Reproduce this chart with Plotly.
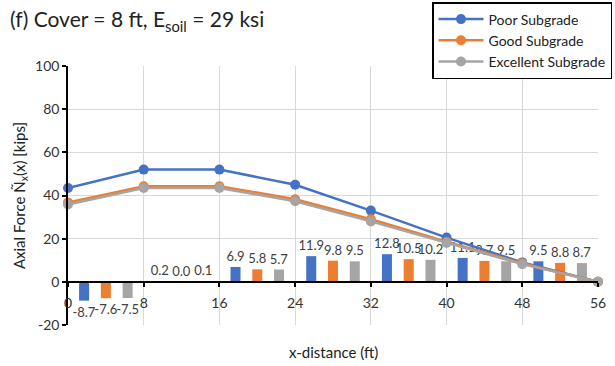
import plotly.graph_objects as go

# ---- data ----
x_dist = [0, 8, 16, 24, 32, 40, 48, 56]
poor = [43.5, 52.0, 52.0, 45.0, 33.0, 20.5, 9.0, 0.0]
good = [36.8, 44.3, 44.3, 38.3, 29.0, 18.6, 8.6, 0.0]
excellent = [35.8, 43.5, 43.5, 37.3, 28.0, 18.0, 8.2, 0.0]

bar_x = [4, 12, 20, 28, 36, 44, 52]
poor_bar = [-8.7, 0.2, 6.9, 11.9, 12.8, 11.1, 9.5]
good_bar = [-7.6, 0.0, 5.8, 9.8, 10.5, 9.7, 8.8]
exc_bar = [-7.5, 0.1, 5.7, 9.5, 10.2, 9.5, 8.7]

series_names = ["Poor Subgrade", "Good Subgrade", "Excellent Subgrade"]
x_ticks = [0, 8, 16, 24, 32, 40, 48, 56]
y_ticks = [-20, 0, 20, 40, 60, 80, 100]

colors = ["#4472C4", "#ED7D31", "#A5A5A5"]
FONT = "Lato"
W, H = 615, 366
L, R, T, B = 68, 17, 66, 41

fig = go.Figure()

for vals, col in zip([poor_bar, good_bar, exc_bar], colors):
    fig.add_trace(go.Bar(
        x=bar_x, y=vals, marker=dict(color=col, line=dict(width=0)),
        texttemplate="%{y:.1f}", textposition="outside",
        textfont=dict(family=FONT, size=13, color="#404040"),
        constraintext="none", cliponaxis=False, showlegend=False,
        hoverinfo="skip",
    ))

for name, vals, col in zip(series_names, [poor, good, excellent], colors):
    fig.add_trace(go.Scatter(
        x=x_dist, y=vals, name=name, mode="lines+markers",
        line=dict(color=col, width=2.5),
        marker=dict(color=col, size=10),
        cliponaxis=False,
    ))

ymin, ymax = y_ticks[0], y_ticks[-1]
zero_pos = (0 - ymin) / (ymax - ymin)

fig.update_layout(
    width=W, height=H,
    margin=dict(l=L, r=R, t=T, b=B, autoexpand=False),
    paper_bgcolor="white", plot_bgcolor="white",
    barmode="group", bargap=0.1375, bargroupgap=0.54,
    font=dict(family=FONT, size=14, color="#333333"),
    title=dict(
        text="(f) Cover = 8 ft, E<sub>soil</sub> = 29 ksi",
        x=10 / W, xanchor="left", xref="container",
        y=1 - 20 / H, yanchor="middle", yref="container",
        font=dict(family=FONT, size=21, color="#222222"),
    ),
    legend=dict(
        x=612 / W, xanchor="right", xref="container",
        y=1 - 2 / H, yanchor="top", yref="container",
        bgcolor="white", bordercolor="black", borderwidth=1.5,
        font=dict(family=FONT, size=14, color="#222222"),
        tracegroupgap=0, itemwidth=45,
    ),
    xaxis=dict(
        range=[x_ticks[0], x_ticks[-1]], tickvals=x_ticks,
        anchor="free", position=zero_pos,
        showline=True, linecolor="black", linewidth=1.5,
        ticks="outside", ticklen=4, tickcolor="black", tickwidth=1.5,
        ticklabelstandoff=5,
        showgrid=True, gridcolor="#D9D9D9", gridwidth=1,
        zeroline=False,
        tickfont=dict(family=FONT, size=14, color="#333333"),
    ),
    xaxis2=dict(
        range=[x_ticks[0], x_ticks[-1]], tickvals=x_ticks, overlaying="x",
        anchor="free", position=zero_pos, showline=False,
        ticks="inside", ticklen=4, tickcolor="black", tickwidth=1.5,
        showticklabels=False, showgrid=False, zeroline=False,
    ),
    yaxis=dict(
        range=[ymin, ymax], tickvals=y_ticks,
        ticktext=[str(v) for v in y_ticks],
        showline=True, linecolor="black", linewidth=1.5,
        ticks="outside", ticklen=4, tickcolor="black", tickwidth=1.5,
        showgrid=True, gridcolor="#D9D9D9", gridwidth=1,
        zeroline=False,
        tickfont=dict(family=FONT, size=14, color="#333333"),
        title=dict(text="Axial Force Ñ<sub>x</sub>(x) [kips]", standoff=6,
                   font=dict(family=FONT, size=15, color="#222222")),
    ),
    yaxis2=dict(
        range=[ymin, ymax], tickvals=y_ticks, overlaying="y", anchor="x",
        side="left", showline=False,
        ticks="inside", ticklen=4, tickcolor="black", tickwidth=1.5,
        showticklabels=False, showgrid=False, zeroline=False,
    ),
)

fig.add_annotation(
    text="x-distance (ft)", xref="paper", yref="paper",
    x=0.5, y=(325 - 352) / (H - T - B), xanchor="center", yanchor="middle",
    showarrow=False, font=dict(family=FONT, size=15, color="#222222"),
)

fig.write_html("out.html")
